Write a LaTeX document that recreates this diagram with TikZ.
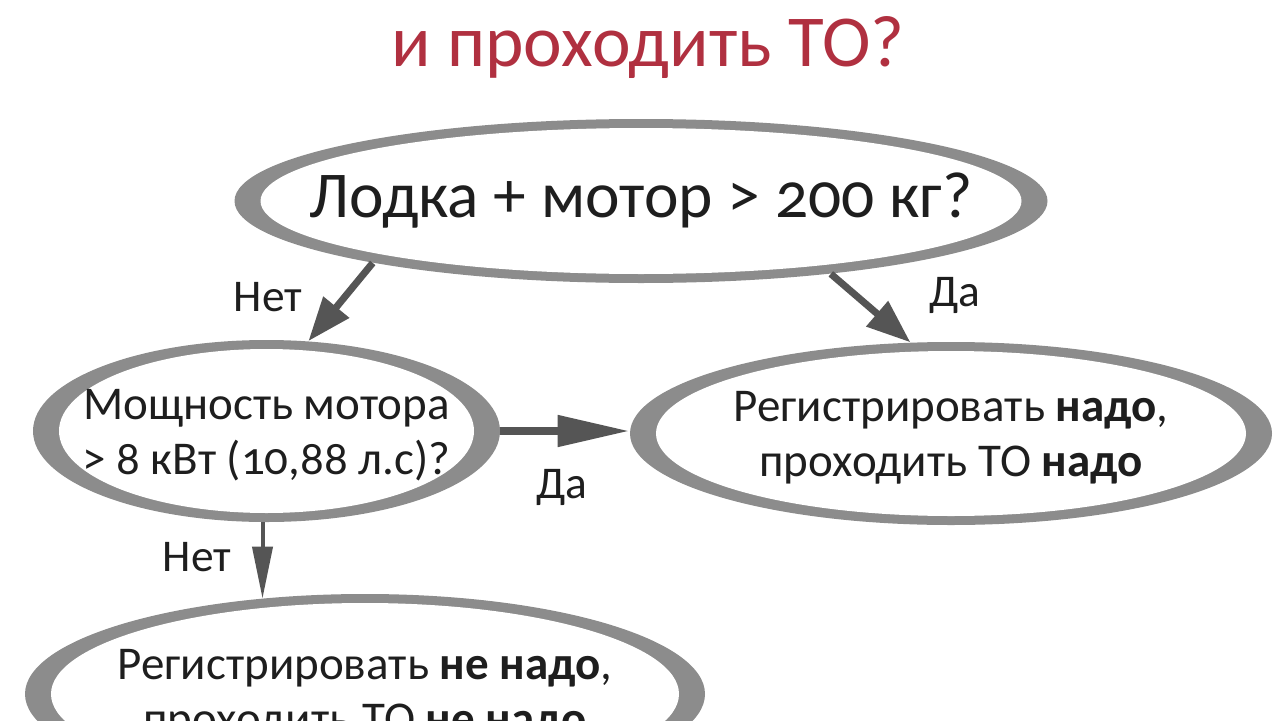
\documentclass[tikz,border=0pt]{standalone}
\usepackage{fontspec}
\setmainfont{Carlito}[Numbers=OldStyle]
\usetikzlibrary{arrows.meta,shapes.geometric,calc}
\definecolor{ringgray}{HTML}{8C8C8C}
\definecolor{arrowgray}{HTML}{555555}
\definecolor{titlered}{HTML}{B03040}
\definecolor{txt}{HTML}{1E1E1E}
\begin{document}
\begin{tikzpicture}[x=0.5pt,y=0.5pt,
  oval/.style={ellipse, inner sep=0pt, fill=ringgray,
    path picture={\fill[white] let \p1=(path picture bounding box.north east),
      \p2=(path picture bounding box.center) in
      (\p2) ellipse [x radius=\x1-\x2-13pt, y radius=\y1-\y2-4.5pt];}},
  ovaltext/.style={text=txt, align=center, inner sep=0pt},
  bigfont/.style={font=\fontsize{32.7}{38}\selectfont},
  midfont/.style={font=\fontsize{23.5}{27.5}\selectfont},
  lbl/.style={text=txt, font=\fontsize{22.7}{26}\selectfont, inner sep=0pt},
  arrbig/.style={draw=arrowgray, line width=3.5pt,
    -{Triangle[length=22pt,width=16pt]}},
  arrh/.style={draw=arrowgray, line width=4pt,
    -{Triangle[length=36pt,width=15pt]}},
  arrv/.style={draw=arrowgray, line width=2pt,
    -{Triangle[length=26pt,width=10pt]}}
]
\useasboundingbox[fill=white] (0,0) rectangle (1280,720);

\node[text=titlered, font=\fontsize{36.6}{40}\selectfont, inner sep=0pt]
  (title) at (648,672) {и проходить ТО?};

\node[oval, minimum width=406.5pt, minimum height=82pt] (top) at (641,519) {};
\node[ovaltext, bigfont] (toptxt) at (top.center) {Лодка + мотор > 200 кг?};
\node[oval, minimum width=233.5pt, minimum height=91pt] (left) at (266.5,289) {};
\node[ovaltext, midfont] (lefttxt) at ([yshift=-2pt]left.center) {Мощность мотора\\> 8 кВт (10,88 л.с)?};
\node[oval, minimum width=321pt, minimum height=91.5pt] (right) at (951,286.5) {};
\node[ovaltext, midfont] (righttxt) at ([yshift=-2pt]right.center) {Регистрировать \textbf{надо},\\проходить ТО \textbf{надо}};
\node[oval, minimum width=340pt, minimum height=100pt] (bottom) at (365,26) {};
\node[ovaltext, midfont] (bottomtxt) at ([yshift=-1pt]bottom.center) {Регистрировать \textbf{не надо},\\проходить ТО \textbf{не надо}};

\draw[arrbig] (top.193.7) -- (left.65.6);
\draw[arrbig] (top.339.9) -- (right.114.7);
\draw[arrh] (left.east) -- (left.east -| right.west);
\draw[arrv] ([xshift=-2pt]left.south) -- ([xshift=-2pt,yshift=-2.5pt]left.south |- bottom.north);

\node[lbl] (l1) at (268,423) {Нет};
\node[lbl] (l2) at (955,425) {Да};
\node[lbl] (l3) at (562,233) {Да};
\node[lbl] (l4) at (197,163) {Нет};
\end{tikzpicture}
\end{document}
